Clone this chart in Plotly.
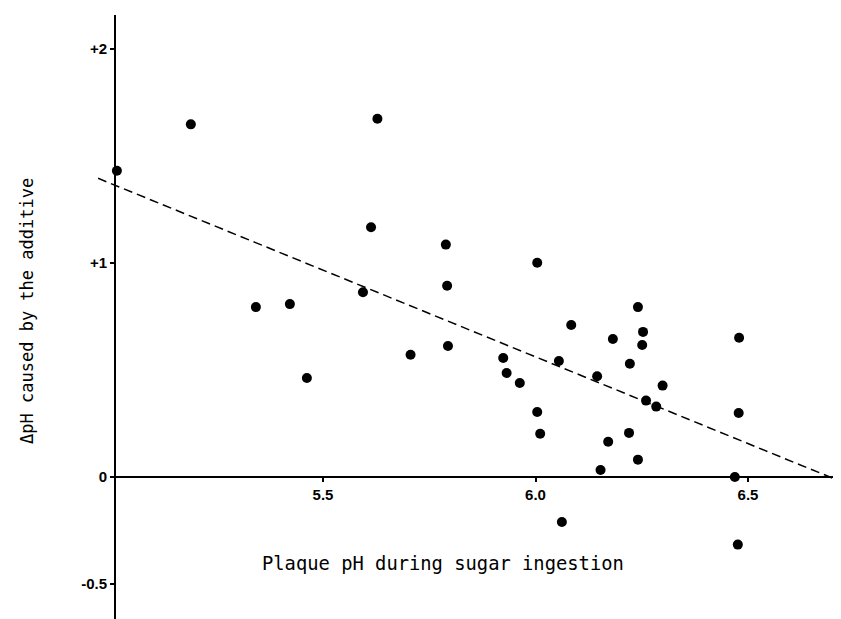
import plotly.graph_objects as go

# Data
plaque_ph = [5.015, 5.189, 5.628, 5.613, 5.342, 5.422, 5.594, 5.462,
             5.789, 5.792, 5.794, 5.706, 5.924, 5.932, 5.963, 6.004,
             6.004, 6.011, 6.084, 6.055, 6.182, 6.145, 6.241, 6.253,
             6.251, 6.222, 6.260, 6.284, 6.299, 6.171, 6.153, 6.241,
             6.220, 6.062, 6.469, 6.479, 6.478, 6.476]
delta_ph = [1.431, 1.648, 1.674, 1.167, 0.794, 0.808, 0.863, 0.463,
            1.086, 0.894, 0.612, 0.571, 0.556, 0.486, 0.439, 1.001,
            0.304, 0.202, 0.710, 0.542, 0.645, 0.471, 0.794, 0.678,
            0.617, 0.529, 0.357, 0.329, 0.427, 0.165, 0.033, 0.081,
            0.206, -0.210, 0.000, 0.651, 0.299, -0.316]

# regression line
fit_x = [4.9705, 6.7376]
fit_intercept_at_5 = 1.372
fit_slope = -0.8106
fit_y = [fit_intercept_at_5 + fit_slope * (v - 5.0) for v in fit_x]

x_tickvals = [5.5, 6.0, 6.5]
x_ticktext = ["5.5", "6.0", "6.5"]
y_tickvals = [-0.5, 0, 1, 2]
y_ticktext = ["-0.5", "0", "+1", "+2"]

x_title = "Plaque pH during sugar ingestion"
y_title = "\u0394pH caused by the additive"

x_range = [5.0129, 6.7376]
x2_range = [4.9705, 6.7376]
y_range = [-0.701, 2.159]

LEFT = 90
AXIS_PX = 108
PLOT_W = 841 - LEFT
x_dom_start = (AXIS_PX - LEFT) / PLOT_W

fig = go.Figure()
fig.add_trace(go.Scatter(x=fit_x, y=fit_y, mode="lines", xaxis="x2", yaxis="y",
                         line=dict(color="black", width=1.5, dash="9px,5px"),
                         hoverinfo="skip"))
fig.add_trace(go.Scatter(x=plaque_ph, y=delta_ph, mode="markers",
                         xaxis="x", yaxis="y",
                         marker=dict(color="black", size=10),
                         cliponaxis=False))

x_axis_pos = (0 - y_range[0]) / (y_range[1] - y_range[0])

tick_font = dict(family="Liberation Sans, Arial, sans-serif", size=15,
                 color="black", weight="bold")
title_font = dict(family="DejaVu Sans Mono", color="black")

fig.update_layout(
    width=841, height=619,
    margin=dict(l=LEFT, r=0, t=7, b=0),
    plot_bgcolor="rgba(0,0,0,0)", paper_bgcolor="white",
    showlegend=False,
    xaxis=dict(range=x_range, domain=[x_dom_start, 1], anchor="free",
               position=x_axis_pos,
               showline=True, linecolor="black", linewidth=2,
               ticks="outside", ticklen=4, tickwidth=1.5, tickcolor="black",
               tickvals=x_tickvals, ticktext=x_ticktext, tickfont=tick_font,
               showgrid=False, zeroline=False),
    xaxis2=dict(range=x2_range, domain=[0, 1], anchor="y",
                showline=False, showticklabels=False, ticks="",
                showgrid=False, zeroline=False),
    yaxis=dict(range=y_range, anchor="x", showline=True, linecolor="black",
               linewidth=2, ticks="outside", ticklen=4, tickwidth=1.5,
               tickcolor="black", tickvals=y_tickvals, ticktext=y_ticktext,
               tickfont=tick_font,
               showgrid=False, zeroline=False),
    annotations=[
        dict(text=x_title, x=5.783, y=-0.4065, xref="x", yref="y",
             showarrow=False, font=dict(size=18.8, **title_font)),
        dict(text=y_title, x=(7 - LEFT) / PLOT_W, y=0.776, xref="paper", yref="y",
             xanchor="left", textangle=-90, showarrow=False,
             font=dict(size=17, **title_font)),
    ],
)

fig.write_html("out.html")
